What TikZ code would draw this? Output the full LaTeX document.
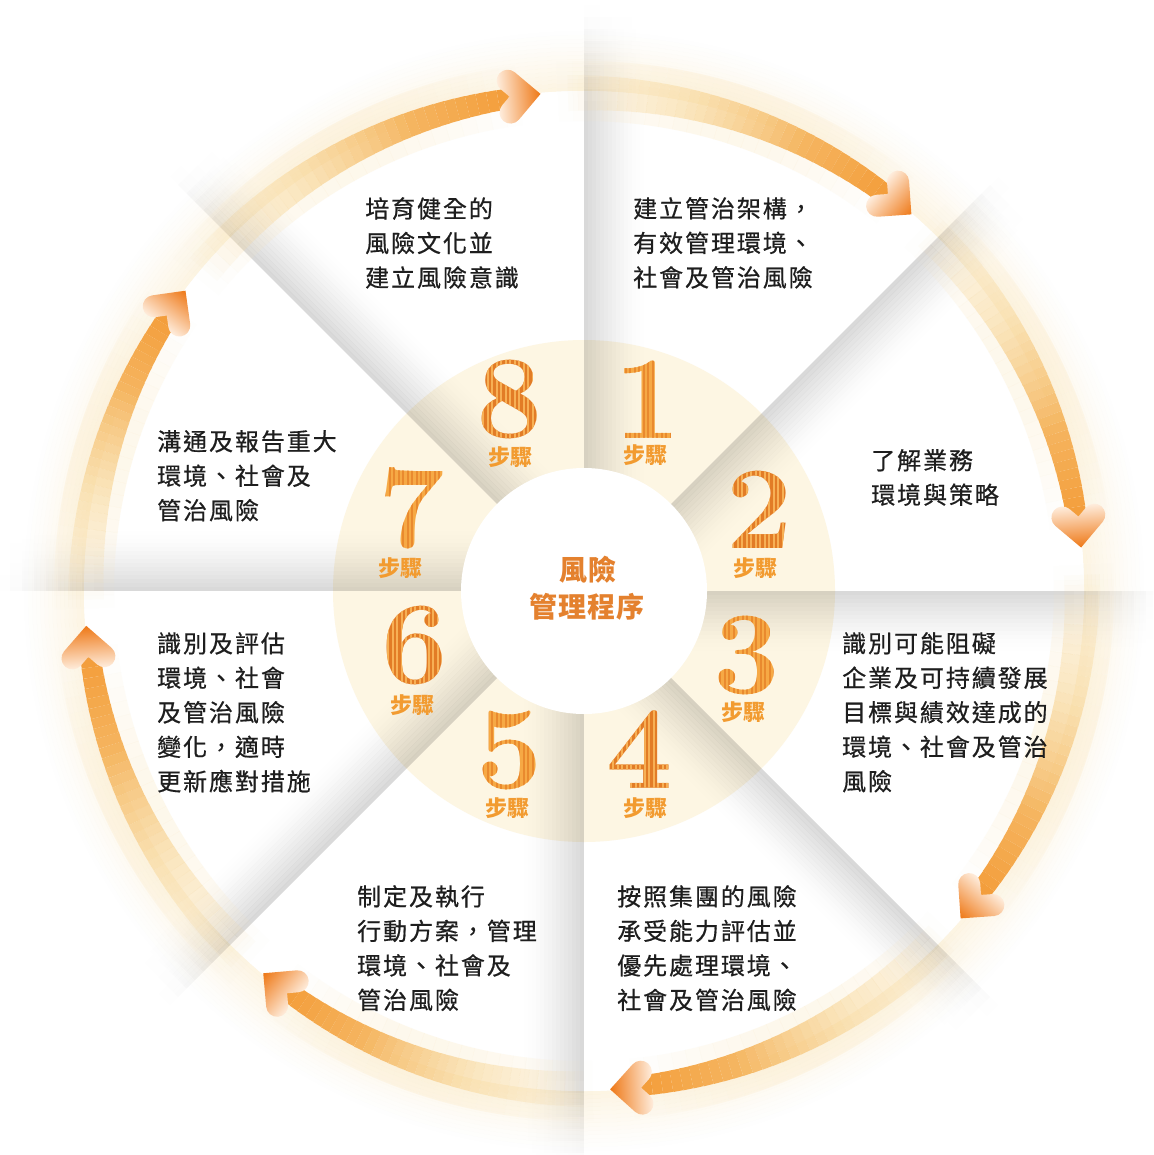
\documentclass[tikz,border=0pt]{standalone}
\usepackage{fontspec}
\newfontfamily\cjk{Noto Sans CJK TC}[LetterSpace=8,FakeBold=0.6]
\newfontfamily\cjkc{Noto Sans CJK TC}[LetterSpace=4]
\newfontfamily\cjks{Noto Sans CJK TC}
\definecolor{ringc}{HTML}{FDF6E3}
\definecolor{ctrc}{HTML}{E4812E}
\definecolor{stepc}{HTML}{F29B30}
\definecolor{digdark}{HTML}{E27C26}
\definecolor{diglight}{HTML}{F6A945}
\definecolor{digdarkS}{HTML}{E98A2E}
\definecolor{diglightS}{HTML}{F7B055}
\definecolor{txt}{HTML}{1E1E1E}
\definecolor{aMid}{HTML}{F8D592}
\definecolor{aHead}{HTML}{F39C38}
\definecolor{headDark}{HTML}{EE7816}
\definecolor{headMid}{HTML}{F6AE68}
\definecolor{headPale}{HTML}{FFF0E2}
\definecolor{glowc}{HTML}{FBE6BA}
\tikzset{
  blk/.style={anchor=north west, inner sep=0pt, align=left, text=txt,
    font=\cjk\fontsize{24}{34.5}\selectfont},
  stepl/.style={inner sep=0pt, text=stepc, font=\cjks\bfseries\fontsize{22}{22}\selectfont},
  ctr/.style={inner sep=0pt, text=ctrc, font=\cjkc\bfseries\fontsize{28}{28}\selectfont},
  digit/.style={inner sep=0pt, font=\fontsize{118}{118}\selectfont\bfseries},
}
\begin{document}
\begin{tikzpicture}[x=1pt,y=1pt]
\useasboundingbox (0,0) rectangle (1153,-1155);
\clip (0,0) rectangle (1153,-1155);
\fill[white] (0,0) rectangle (1153,-1155);
\begin{scope}[shift={(584,-591)}]
  % outer glow
  \foreach \j in {0,...,14} {
    \pgfmathsetmacro\op{0.4*(1-\j/15)^1.3}
    \draw[glowc, line width=4pt, opacity=\op] (0,0) circle (502+4*\j);
  }
  \fill[white] (0,0) circle (500);
  \fill[ringc] (0,0) circle (251);
  % divider shadows
  \foreach \th in {0,45,...,315} {
    \begin{scope}[rotate=\th]
      \foreach \j in {0,...,14} {
        \pgfmathsetmacro\op{0.15*(1-\j/15)^1.5}
        \fill[black, opacity=\op] (0,-4*\j) -- (490,-4*\j) -- (490,-4*\j-4) -- (0,-4*\j-4) -- cycle;
        \foreach \k in {0,...,7} {
          \pgfmathsetmacro\opb{\op*(1-(\k+0.5)/8)^1.4}
          \fill[black, opacity=\opb] (490+12*\k,-4*\j) -- (502+12*\k,-4*\j) -- (502+12*\k,-4*\j-4) -- (490+12*\k,-4*\j-4) -- cycle;
        }
      }
    \end{scope}
  }
  \fill[white] (0,0) circle (123);
  % arrow glows
  \foreach \ta/\hb in {141/95, 93/49, 47/5, 3/-41, -43/-87, -89/-130, -132/-176, 182/143} {
    \foreach \i in {0,...,23} {
      \pgfmathsetmacro\sa{\ta+(\hb+2.5-\ta)*\i/24}
      \pgfmathsetmacro\ea{\ta+(\hb+2.5-\ta)*(\i+1)/24}
      \pgfmathsetmacro\opg{0.28*sin(180*(\i+0.5)/24)}
      \draw[line width=60pt, glowc, opacity=\opg] (\sa:500) arc[start angle=\sa, end angle=\ea, radius=500];
    }
  }
  % arrow bodies
  \foreach \ta/\hb in {141/95, 93/49, 47/5, 3/-41, -43/-87, -89/-130, -132/-176, 182/143} {
    \foreach \i in {0,...,35} {
      \pgfmathsetmacro\t{\i/35}
      \pgfmathsetmacro\sa{\ta+(\hb+2.5-\ta)*\i/36}
      \pgfmathsetmacro\ea{\ta+(\hb+2.5-\ta)*(\i+1)/36}
      \pgfmathsetmacro\w{36-16*\t}
      \pgfmathsetmacro\opa{min(1,\t*1.4)}
      \pgfmathsetmacro\pb{max(0,(\t-0.35)*154)}
      \colorlet{segc}{aHead!\pb!aMid}
      \draw[line width=\w pt, segc, opacity=\opa] (\sa:498) arc[start angle=\sa, end angle=\ea, radius=498];
    }
  }
\end{scope}
% arrow heads
\foreach \hb in {95,49,5,-41,-87,-130,-176,143} {
  \pgfmathsetmacro\hx{584+499*cos(\hb)}
  \pgfmathsetmacro\hy{-591+499*sin(\hb)}
  \pgfmathsetmacro\rot{\hb-90}
  \begin{scope}[transform canvas={shift={(\hx,\hy)}, rotate=\rot}]
    \shade[left color=headPale, middle color=headMid, right color=headDark]
      (0,0) -- (-23.78,23.78) arc[start angle=45, end angle=225, radius=11]
      -- (-31.12,0) -- (-39.34,-8.22) arc[start angle=135, end angle=315, radius=11] -- cycle;
  \end{scope}
}
% digits
\foreach \d/\cx/\cy/\bc/\sc in {1/648/400/diglight/digdarkS, 2/760/510/digdark/diglightS,
    3/747/655/diglight/digdarkS, 4/640/750/digdark/diglightS, 5/510/750/diglight/digdarkS,
    6/415/645/digdark/diglightS, 7/412/508/diglight/digdarkS, 8/510/400/digdark/diglightS} {
  \node[digit, text=\bc] (n\d) at (\cx,-\cy) {\d};
  \begin{scope}
    \clip foreach \s in {-11,...,11} {(\cx+\s*4.5-0.8,-\cy-50) rectangle ++(1.6,100)};
    \node[digit, text=\sc] (m\d) at (\cx,-\cy) {\d};
  \end{scope}
}
% step labels
\foreach \d/\cx/\cy in {8/510/457, 1/645/455, 2/755/568, 3/743/712, 4/645/808, 5/507/808, 6/412/705, 7/400/568} {
  \node[stepl] (s\d) at (\cx,-\cy) {步驟};
}
% centre
\node[ctr] (c1) at (588,-570) {風險};
\node[ctr] (c2) at (587,-607) {管理程序};
% texts
\node[blk] (t8) at (365,-197) {培育健全的\\風險文化並\\建立風險意識};
\node[blk] (t1) at (633,-197) {建立管治架構，\\有效管理環境、\\社會及管治風險};
\node[blk] (t2) at (871,-449) {了解業務\\環境與策略};
\node[blk] (t3) at (842,-632) {識別可能阻礙\\企業及可持續發展\\目標與績效達成的\\環境、社會及管治\\風險};
\node[blk] (t4) at (617,-885) {按照集團的風險\\承受能力評估並\\優先處理環境、\\社會及管治風險};
\node[blk] (t5) at (357,-885) {制定及執行\\行動方案，管理\\環境、社會及\\管治風險};
\node[blk] (t6) at (157,-632) {識別及評估\\環境、社會\\及管治風險\\變化，適時\\更新應對措施};
\node[blk] (t7) at (157,-430) {溝通及報告重大\\環境、社會及\\管治風險};
\end{tikzpicture}
\end{document}
